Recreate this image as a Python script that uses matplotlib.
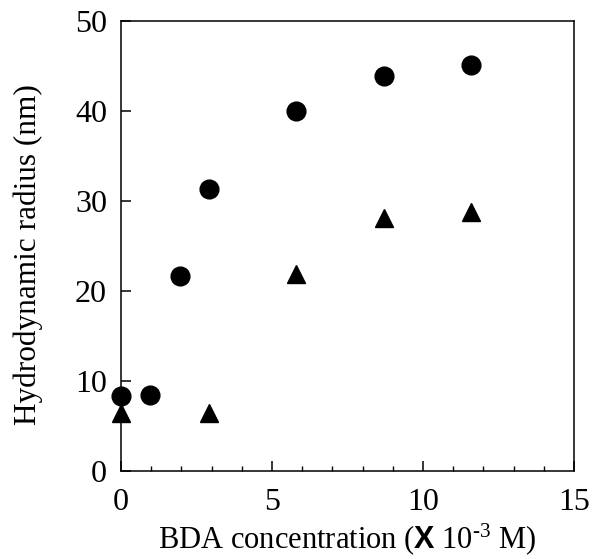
import matplotlib
matplotlib.use('Agg')
import matplotlib.pyplot as plt
from matplotlib.ticker import MultipleLocator

# data
circle_x = [0, 0.95, 1.95, 2.9, 5.8, 8.7, 11.6]
circle_y = [8.3, 8.4, 21.7, 31.3, 40.0, 43.9, 45.1]
triangle_x = [0, 2.9, 5.8, 8.7, 11.6]
triangle_y = [6.4, 6.4, 21.9, 28.1, 28.8]

x_ticks = [0, 5, 10, 15]
y_ticks = [0, 10, 20, 30, 40, 50]

plt.rcParams['font.family'] = ['Liberation Serif', 'DejaVu Serif']
plt.rcParams['mathtext.fontset'] = 'custom'
plt.rcParams['mathtext.rm'] = 'Liberation Serif'
plt.rcParams['mathtext.sf'] = 'Liberation Sans'
plt.rcParams['mathtext.bf'] = 'Liberation Sans:bold'
plt.rcParams['mathtext.it'] = 'Liberation Serif:italic'

fig = plt.figure(figsize=(5.94, 5.59), dpi=100)
ax = fig.add_axes([121 / 594, 1 - 471 / 559, 453 / 594, 450 / 559])

ax.plot(circle_x, circle_y, 'o', color='black', markersize=13.5, clip_on=False, zorder=3)
ax.plot(triangle_x, triangle_y, '^', color='black', markersize=13, clip_on=False, zorder=3)

ax.set_xlim(0, 15)
ax.set_ylim(0, 50)
ax.set_xticks(x_ticks)
ax.set_yticks(y_ticks)
ax.xaxis.set_minor_locator(MultipleLocator(1))

for s in ax.spines.values():
    s.set_linewidth(1.1)

ax.tick_params(axis='both', which='major', direction='in', length=7, width=1.1, labelsize=23)
ax.tick_params(axis='x', which='major', pad=12)
ax.tick_params(axis='y', which='major', pad=10)
ax.tick_params(axis='x', which='minor', direction='in', length=3.5, width=1.0)

ax.set_xlabel(r'BDA concentration ($\mathbf{X}$ 10$^{\text{-}3}$ M)', fontsize=22)
ax.set_ylabel('Hydrodynamic radius (nm)', fontsize=22.5)
ax.xaxis.set_label_coords(0.5, -0.112)
ax.yaxis.set_label_coords(-0.172, 0.48)

fig.savefig('out.png', dpi=100)
plt.close(fig)
